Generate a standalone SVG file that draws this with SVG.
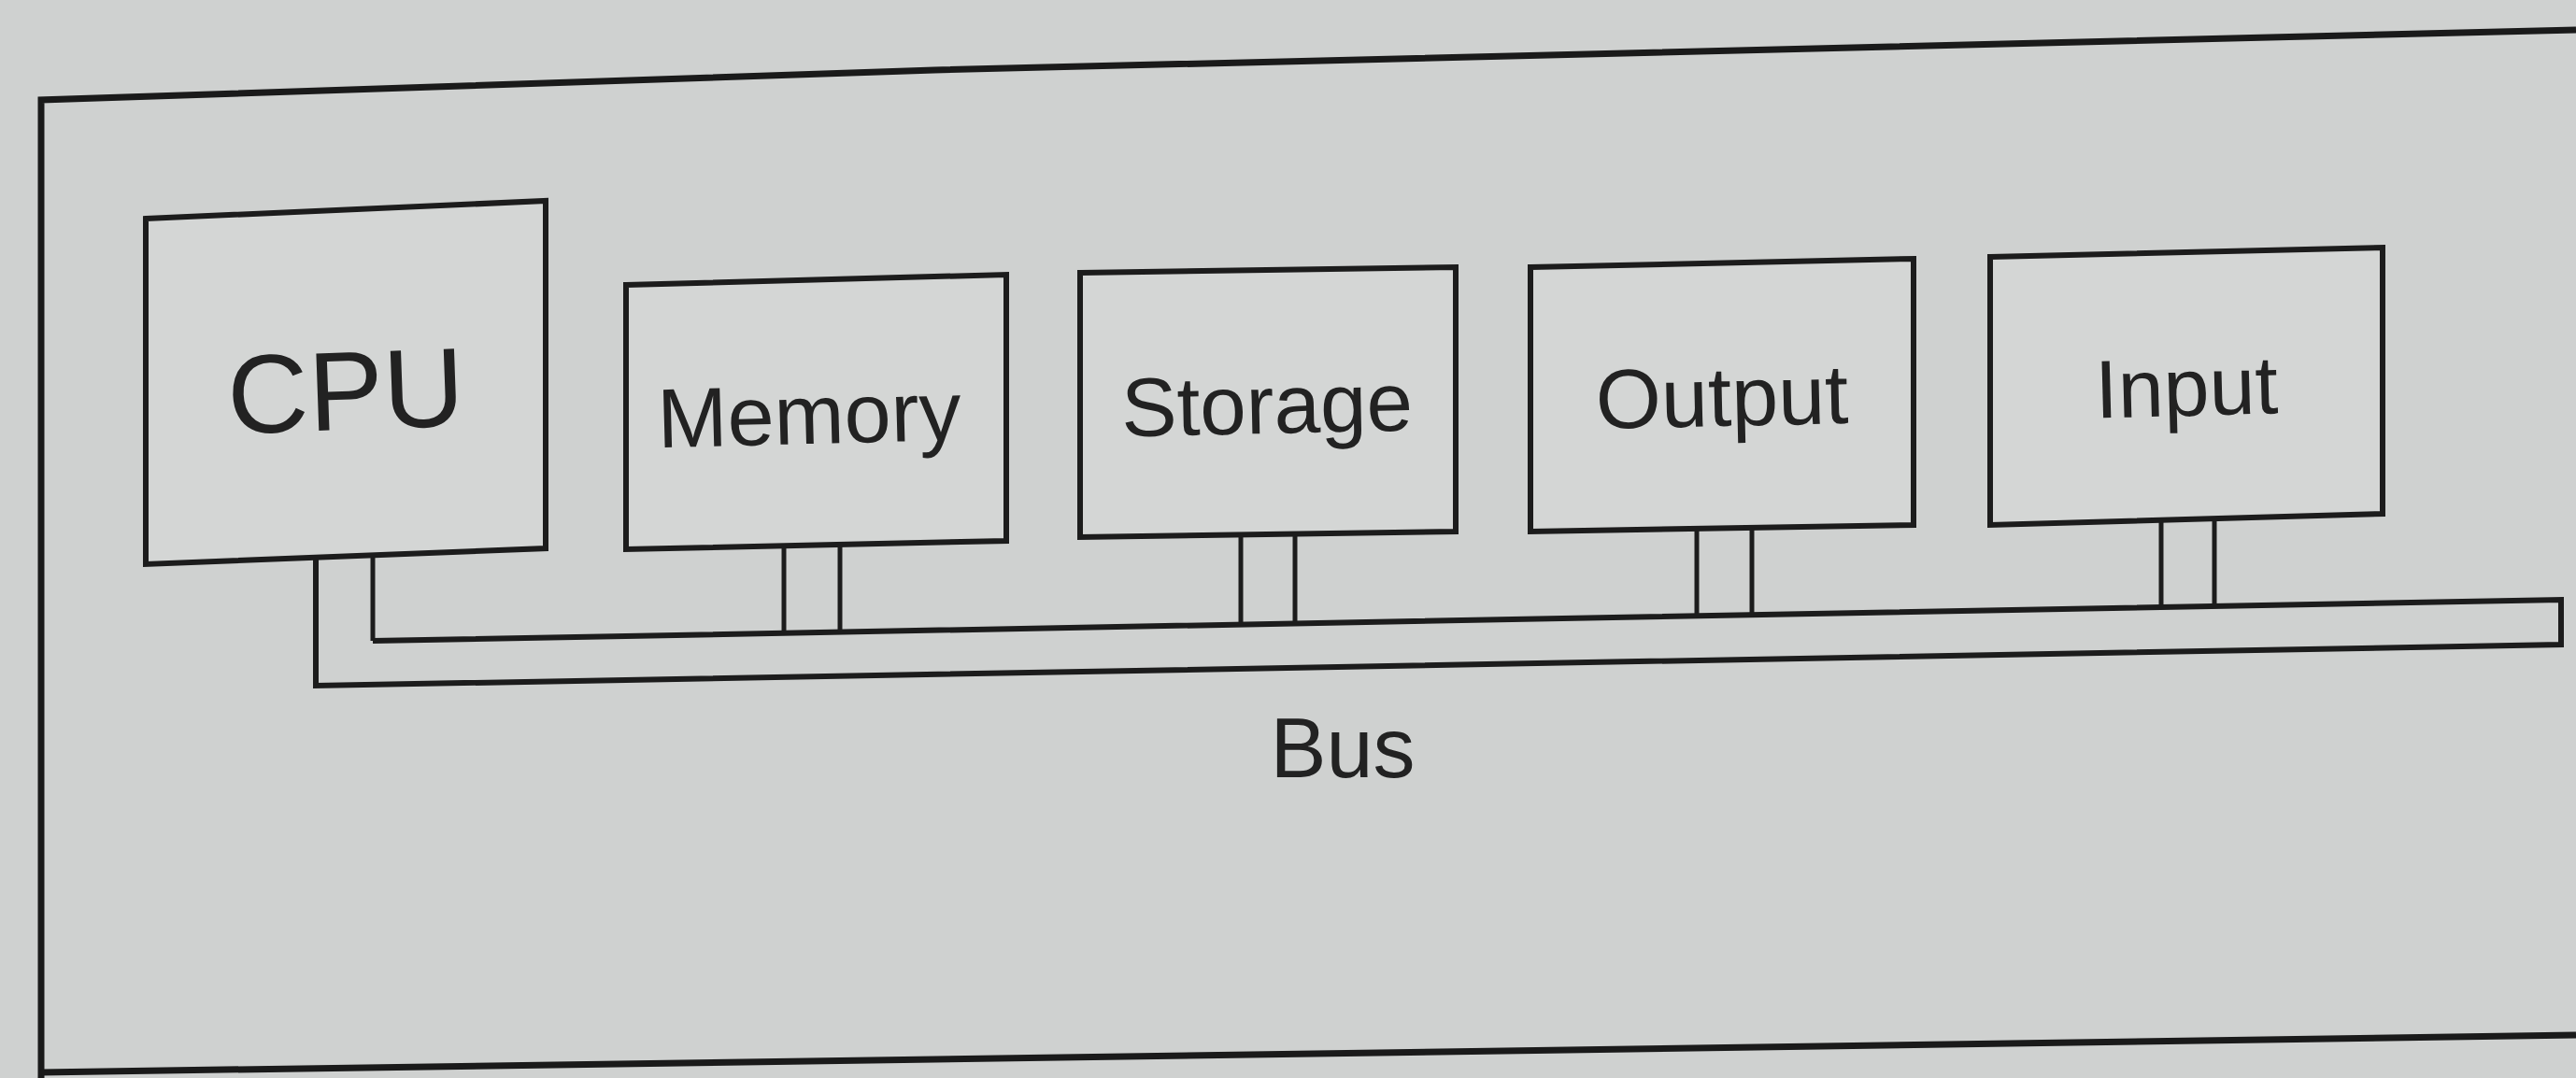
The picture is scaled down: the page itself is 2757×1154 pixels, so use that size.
<svg xmlns="http://www.w3.org/2000/svg" width="2757" height="1154" viewBox="0 0 2757 1154">
  <style>
    .bg { fill: #cfd1d0; }
    .frame { fill: none; stroke: #1a1a1a; stroke-width: 7; stroke-linejoin: miter; }
    .box { fill: #d4d6d5; stroke: #1c1c1c; stroke-width: 6; stroke-linejoin: miter; }
    .busline { fill: none; stroke: #1c1c1c; stroke-width: 6; stroke-linejoin: miter; }
    .conn { stroke: #1c1c1c; stroke-width: 5; fill: none; }
    .lbl { font-family: "Liberation Sans", Arial, Helvetica, sans-serif; fill: #222222; text-anchor: middle; }
  </style>
  <rect class="bg" x="0" y="0" width="2757" height="1154"/>

  <g id="frame">
    <polyline class="frame" points="2757,32 1000,75 44,107 44,1154"/>
    <line class="frame" x1="44" y1="1148" x2="2757" y2="1108"/>
  </g>

  <g id="cpu">
    <polygon class="box" points="156,234 584,215 584,587 156,604"/>
    <text class="lbl" x="370" y="460" font-size="120" transform="rotate(-2 370 420)">CPU</text>
  </g>

  <g id="memory">
    <polygon class="box" points="670,305 1077,294 1077,579 670,588"/>
    <text class="lbl" x="866" y="475" font-size="90" transform="rotate(-1.5 866 445)">Memory</text>
  </g>

  <g id="storage">
    <polygon class="box" points="1156,292 1558,286 1558,569 1156,575"/>
    <text class="lbl" x="1356" y="464" font-size="89" transform="rotate(-1.2 1356 434)">Storage</text>
  </g>

  <g id="output">
    <polygon class="box" points="1638,286 2048,277 2048,562 1638,569"/>
    <text class="lbl" x="1843" y="456" font-size="90" transform="rotate(-1.3 1843 426)">Output</text>
  </g>

  <g id="input">
    <polygon class="box" points="2130,275 2550,265 2550,550 2130,562"/>
    <text class="lbl" x="2340" y="445" font-size="88" transform="rotate(-1.5 2340 415)">Input</text>
  </g>

  <g id="bus">
    <polyline class="busline" points="338,598 338,734 2741,690 2741,642 399,686"/>
    <text class="lbl" x="1437" y="832" font-size="90">Bus</text>
  </g>

  <g id="connectors">
    <line class="conn" x1="399" y1="594" x2="399" y2="686"/>
    <line class="conn" x1="839" y1="585" x2="839" y2="678"/>
    <line class="conn" x1="899" y1="584" x2="899" y2="677"/>
    <line class="conn" x1="1328" y1="572" x2="1328" y2="669"/>
    <line class="conn" x1="1386" y1="571" x2="1386" y2="668"/>
    <line class="conn" x1="1816" y1="565" x2="1816" y2="660"/>
    <line class="conn" x1="1875" y1="564" x2="1875" y2="659"/>
    <line class="conn" x1="2313" y1="556" x2="2313" y2="650"/>
    <line class="conn" x1="2370" y1="555" x2="2370" y2="649"/>
  </g>
</svg>
